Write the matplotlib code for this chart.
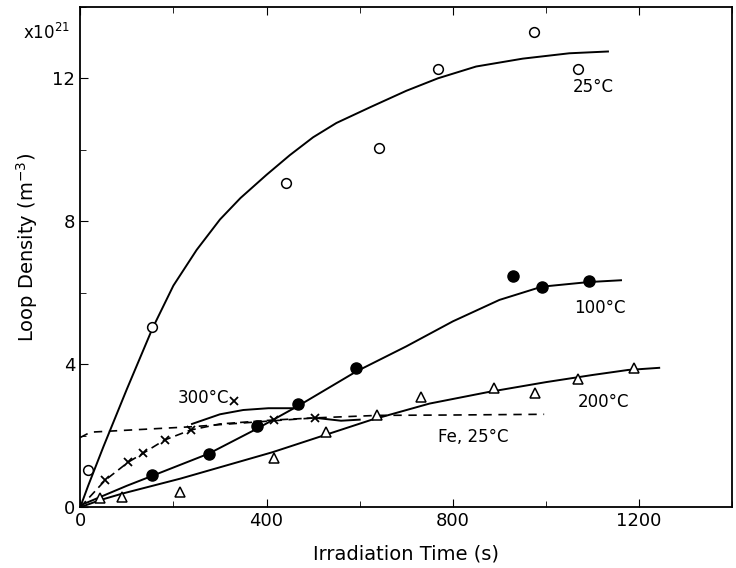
import matplotlib
matplotlib.use('Agg')
import matplotlib.pyplot as plt
from matplotlib.ticker import MultipleLocator

# Measured points (irradiation time in s, loop density in 1e21 m^-3)
t_25 = [17, 155, 441, 641, 768, 974, 1069]
n_25 = [1.04, 5.04, 9.08, 10.06, 12.27, 13.3, 12.27]

t_100 = [155, 276, 380, 468, 593, 929, 991, 1092]
n_100 = [0.9, 1.5, 2.27, 2.88, 3.9, 6.47, 6.17, 6.33]

t_200 = [43, 90, 215, 417, 527, 638, 731, 889, 977, 1069, 1189]
n_200 = [0.25, 0.3, 0.42, 1.37, 2.1, 2.58, 3.08, 3.33, 3.19, 3.59, 3.89]

t_300 = [54, 103, 135, 181, 237, 415, 505]
n_300 = [0.76, 1.26, 1.51, 1.88, 2.16, 2.44, 2.5]

# Hand-drawn fitted curves
fit25_t = [0, 17, 50, 100, 155, 200, 250, 300, 344, 400, 450, 500, 550, 624, 700, 768, 850, 950, 1050, 1133]
fit25_n = [0, 0.6, 1.7, 3.3, 5.0, 6.2, 7.2, 8.05, 8.65, 9.3, 9.85, 10.35, 10.75, 11.2, 11.65, 12.0, 12.33, 12.55, 12.7, 12.75]

fit100_t = [0, 100, 155, 276, 380, 470, 593, 700, 800, 900, 991, 1092, 1161]
fit100_n = [0.05, 0.6, 0.88, 1.5, 2.2, 2.85, 3.8, 4.5, 5.2, 5.8, 6.17, 6.3, 6.35]

fit200_t = [0, 43, 90, 215, 413, 624, 750, 875, 1000, 1100, 1176, 1243]
fit200_n = [0, 0.2, 0.38, 0.8, 1.54, 2.44, 2.9, 3.22, 3.5, 3.7, 3.84, 3.9]

fit300_t = [0, 54, 103, 135, 181, 237, 300, 415, 505]
fit300_n = [0, 0.76, 1.26, 1.51, 1.88, 2.16, 2.33, 2.44, 2.5]
tail300_t = [505, 560, 600]
tail300_n = [2.5, 2.42, 2.45]
hump300_t = [240, 300, 350, 404, 473]
hump300_n = [2.33, 2.6, 2.72, 2.77, 2.77]

fe_t = [0, 22, 237, 415, 505, 640, 800, 996]
fe_n = [1.95, 2.1, 2.25, 2.42, 2.5, 2.57, 2.58, 2.6]

plt.rcParams['font.family'] = ['DejaVu Sans']

fig = plt.figure(figsize=(7.36, 5.68), dpi=100)
ax = fig.add_axes([0.109, 0.107, 0.886, 0.881])

lw = 1.4
ax.plot(fit25_t, fit25_n, color='black', lw=lw)
ax.plot(fit100_t, fit100_n, color='black', lw=lw)
ax.plot(fit200_t, fit200_n, color='black', lw=lw)
ax.plot(fit300_t, fit300_n, color='black', lw=1.2, ls=(0, (5, 3)))
ax.plot(tail300_t, tail300_n, color='black', lw=lw)
ax.plot(hump300_t, hump300_n, color='black', lw=lw)
ax.plot(fe_t, fe_n, color='black', lw=1.2, ls=(0, (5, 4)))

ax.plot(t_25, n_25, 'o', ms=7, mfc='white', mec='black', mew=1.1)
ax.plot(t_100, n_100, 'o', ms=8, mfc='black', mec='black')
ax.plot(t_200, n_200, '^', ms=7, mfc='white', mec='black', mew=1.1)
ax.plot(t_300, n_300, 'x', ms=6, color='black', mew=1.3)

ax.text(1058, 11.76, '25°C', fontsize=12, va='center', ha='left')
ax.text(1060, 5.57, '100°C', fontsize=12, va='center', ha='left')
ax.text(1069, 2.94, '200°C', fontsize=12, va='center', ha='left')
ax.text(768, 1.96, 'Fe, 25°C', fontsize=12, va='center', ha='left')
ax.text(209, 3.05, '300°C', fontsize=12, va='center', ha='left')
ax.plot([330], [2.98], 'x', ms=6, color='black', mew=1.3)

ax.set_xlim(0, 1400)
ax.set_ylim(0, 14)
ax.xaxis.set_major_locator(MultipleLocator(400))
ax.xaxis.set_minor_locator(MultipleLocator(200))
ax.yaxis.set_major_locator(MultipleLocator(4))
ax.yaxis.set_minor_locator(MultipleLocator(2))
ax.tick_params(which='both', direction='in', top=True, right=False, labelsize=13)
ax.tick_params(which='major', length=6)
ax.tick_params(which='minor', length=4)
for s in ax.spines.values():
    s.set_linewidth(1.3)

ax.set_xlabel('Irradiation Time (s)', fontsize=14)
ax.set_ylabel('Loop Density (m$^{-3}$)', fontsize=14)
ax.xaxis.set_label_coords(0.5, -0.075)
ax.yaxis.set_label_coords(-0.062, 0.52)
fig.text(46 / 736, 1 - 33 / 568, r'x10$^{21}$', fontsize=12, ha='center', va='center')

fig.savefig('out.png', dpi=100)
